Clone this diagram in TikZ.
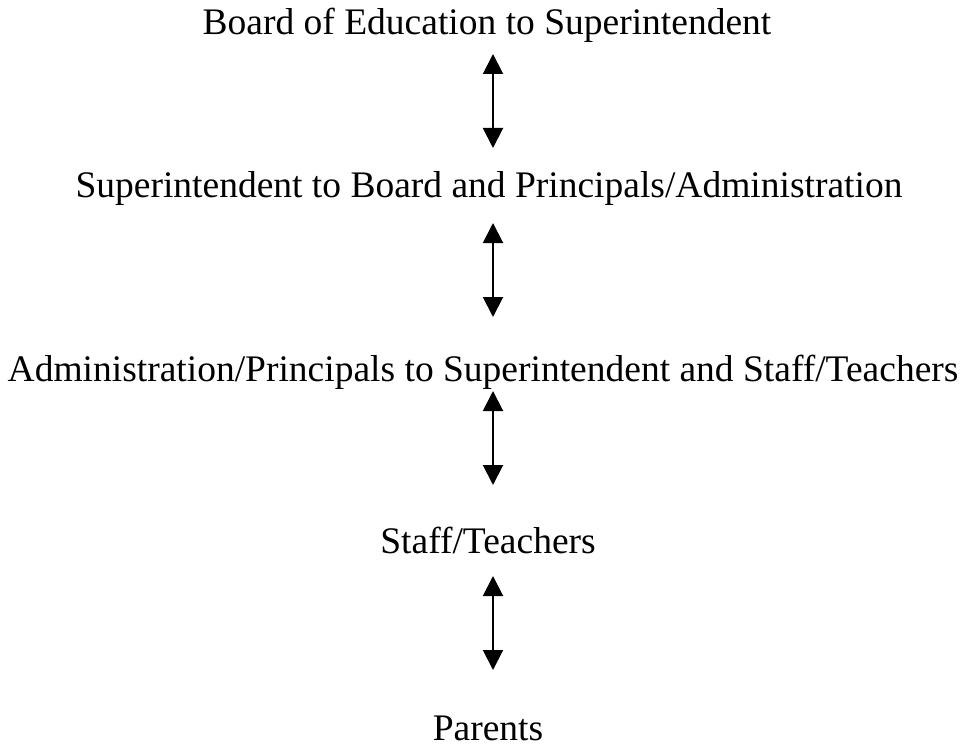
\documentclass[tikz,border=0pt]{standalone}
\usepackage{fontspec}
\setmainfont{Liberation Serif}
\usetikzlibrary{arrows.meta}
\tikzset{
  level/.style={
    font=\fontsize{37.5}{44}\selectfont,
    inner sep=0pt, anchor=base
  },
  link/.style={
    {Triangle[width=20pt,length=20pt]}-{Triangle[width=20pt,length=20pt]},
    line width=2pt
  }
}

\begin{document}
\begin{tikzpicture}[x=1pt, y=1pt, line join=miter]
  \useasboundingbox (0,0) rectangle (966,-746);

  \node[level] (board)   at (487,-35)  {Board of Education to Superintendent};
  \node[level] (supt)    at (489,-198) {Superintendent to Board and Principals/Administration};
  \node[level] (admin)   at (483,-381) {Administration/Principals to Superintendent and Staff/Teachers};
  \node[level] (staff)   at (488,-553) {Staff/Teachers};
  \node[level] (parents) at (488,-740) {Parents};

  % arrows share one vertical line
  \coordinate (axis) at (493,0);

  \draw[link, shorten <=19pt, shorten >=50pt] (axis |- board.base) -- (axis |- supt.base);
  \draw[link, shorten <=25pt, shorten >=64pt] (axis |- supt.base) -- (axis |- admin.base);
  \draw[link, shorten <=10pt, shorten >=68pt] (axis |- admin.base) -- (axis |- staff.base);
  \draw[link, shorten <=23pt, shorten >=70pt] (axis |- staff.base) -- (axis |- parents.base);
\end{tikzpicture}
\end{document}
